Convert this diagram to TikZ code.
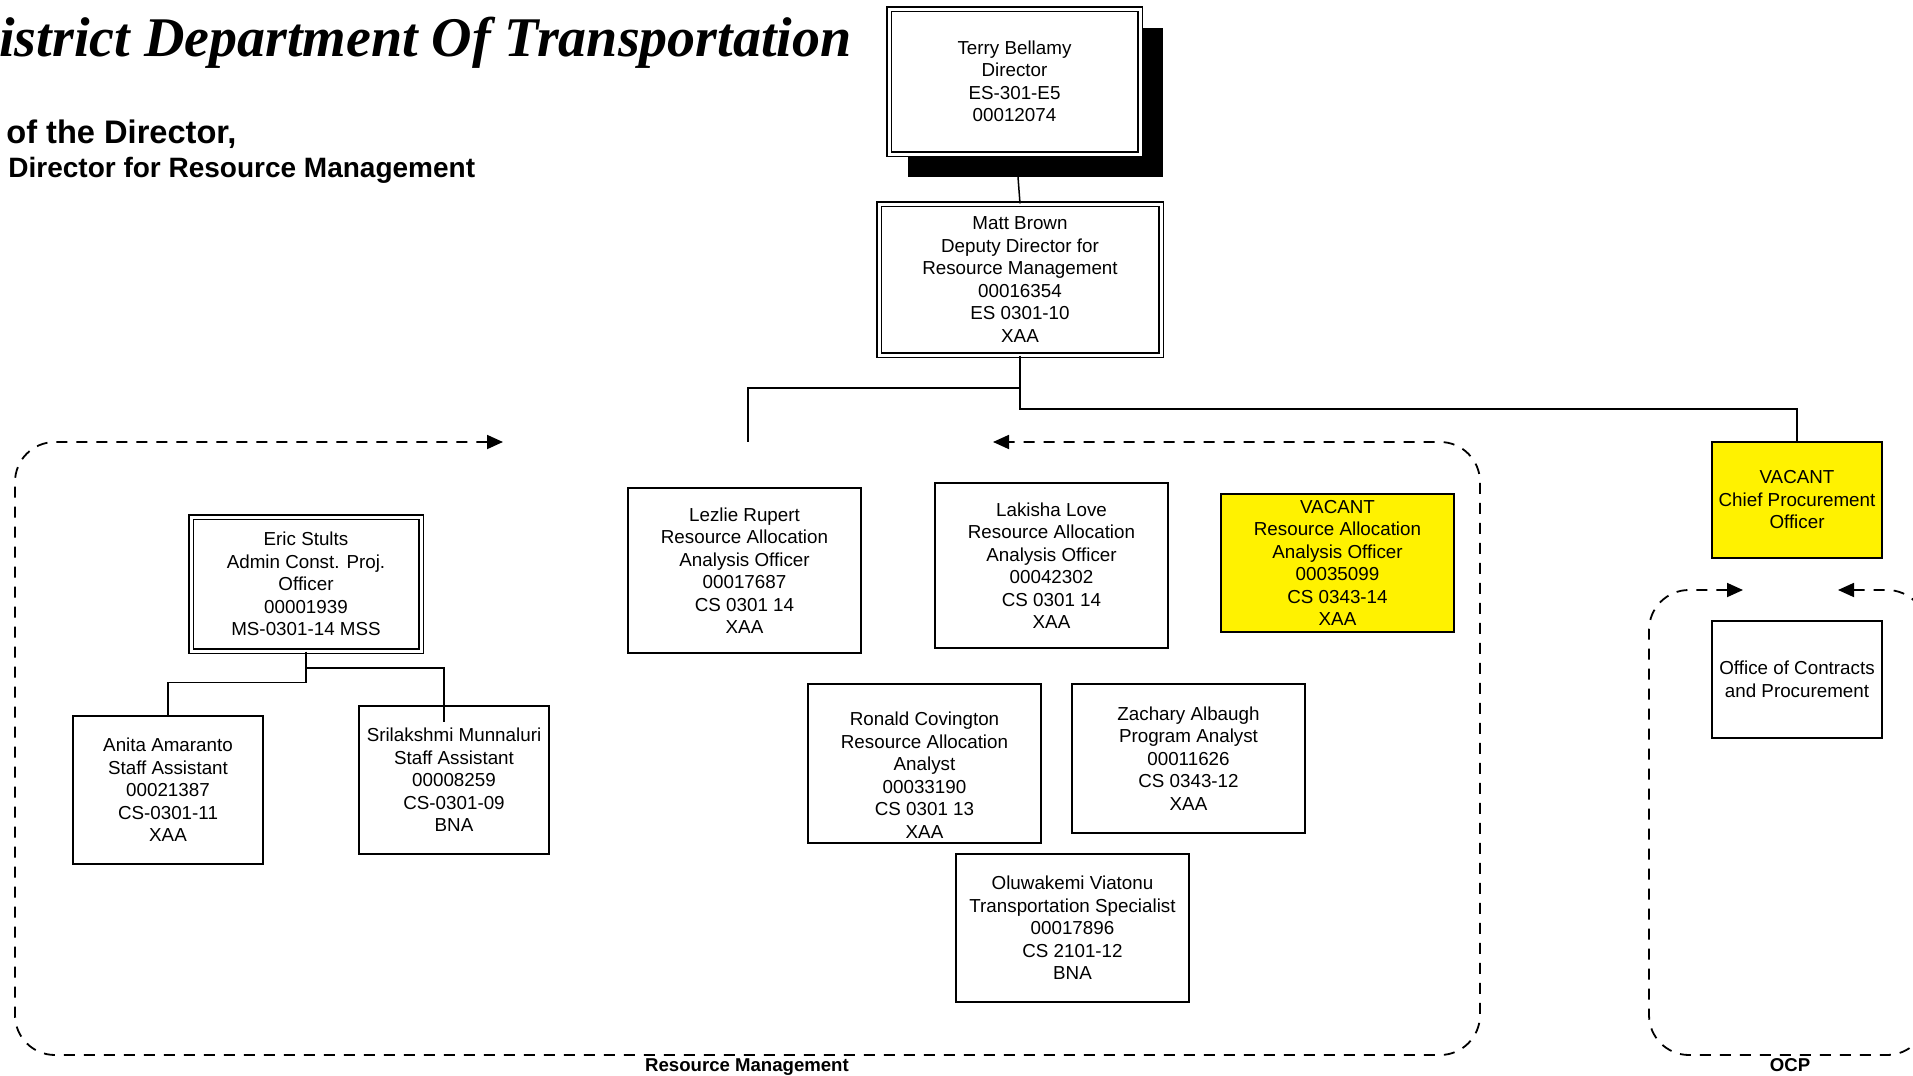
\documentclass[tikz,border=0pt]{standalone}
\usepackage{fontspec}
\setmainfont{Liberation Sans}
\newfontfamily\titlefont{Liberation Serif}
\usetikzlibrary{arrows.meta}
\tikzset{
  box/.style={draw, line width=0.8pt, fill=white, align=center, inner sep=0pt,
              font=\fontsize{9.4}{11.25}\selectfont},
  txt/.style={align=center, inner sep=0pt, font=\fontsize{9.4}{11.25}\selectfont},
  dbox/.style={box, double, double distance=1.5pt, line width=0.6pt},
  sz/.style 2 args={minimum width=#1*0.5pt, minimum height=#2*0.5pt},
  vac/.style={fill=yellow},
  conn/.style={line width=0.75pt},
  grp/.style={dash pattern=on 5.5pt off 4.5pt, line width=0.9pt, rounded corners=20pt,
              {Triangle[length=8pt,width=7pt]}-{Triangle[length=8pt,width=7pt]}},
  lbl/.style={anchor=base, inner sep=0pt, font=\bfseries\fontsize{9.3}{11}\selectfont},
}
\begin{document}
\begin{tikzpicture}[x=0.5pt,y=-0.5pt]
\useasboundingbox (0,0) rectangle (1913,1076);
\clip (0,0) rectangle (1913,1076);
\fill[white] (0,0) rectangle (1913,1076);

% titles
\node[anchor=base west, inner sep=0pt, font=\titlefont\fontsize{28}{30}\selectfont\bfseries\itshape] (title) at (-1,56) {istrict Department Of Transportation};
\node[anchor=base west, inner sep=0pt, font=\fontsize{16.3}{18}\selectfont\bfseries] (sub1) at (6,143) {of the Director,};
\node[anchor=base west, inner sep=0pt, font=\fontsize{14}{16}\selectfont\bfseries] (sub2) at (8,177) {Director for Resource Management};

% director with shadow
\fill (908,28) rectangle (1163,177);
\node[dbox, sz={251}{145}] (terry) at (1014.5,81.5) {Terry Bellamy\\Director\\ES-301-E5\\00012074};
\node[dbox, sz={282}{151}] (matt) at (1020,279.5) {Matt Brown\\Deputy Director for\\Resource Management\\00016354\\ES 0301-10\\XAA};

% Resource Management group
\node[dbox, sz={230}{134}] (eric) at (306,584) {Eric Stults\\Admin Const. Proj.\\Officer\\00001939\\MS-0301-14 MSS};
\node[box, sz={190}{148}] (anita) at (168,790) {Anita Amaranto\\Staff Assistant\\00021387\\CS-0301-11\\XAA};
\node[box, sz={190}{148}] (sri) at (454,780) {Srilakshmi Munnaluri\\Staff Assistant\\00008259\\CS-0301-09\\BNA};
\node[box, sz={233}{165}] (lezlie) at (744.5,570.5) {Lezlie Rupert\\Resource Allocation\\Analysis Officer\\00017687\\CS 0301 14\\XAA};
\node[box, sz={233}{165}] (lakisha) at (1051.5,565.5) {Lakisha Love\\Resource Allocation\\Analysis Officer\\00042302\\CS 0301 14\\XAA};
\node[box, vac, sz={233}{138}] (vacra) at (1337.5,563) {VACANT\\Resource Allocation\\Analysis Officer\\00035099\\CS 0343-14\\XAA};
\node[box, sz={233}{159}] (ronald) at (924.5,763.5) {};
\node[txt] (ronaldt) at (924.5,775) {Ronald Covington\\Resource Allocation\\Analyst\\00033190\\CS 0301 13\\XAA};
\node[box, sz={233}{149}] (zach) at (1188.5,758.5) {Zachary Albaugh\\Program Analyst\\00011626\\CS 0343-12\\XAA};
\node[box, sz={233}{148}] (olu) at (1072.5,928) {Oluwakemi Viatonu\\Transportation Specialist\\00017896\\CS 2101-12\\BNA};

% OCP group
\node[box, vac, sz={170}{116}] (chief) at (1797,500) {VACANT\\Chief Procurement\\Officer};
\node[box, sz={170}{117}] (office) at (1797,679.5) {Office of Contracts\\and Procurement};

% connectors
\coordinate (tb) at (1018,177);
\coordinate (j1) at (1020,388);
\coordinate (j2) at (1020,409);
\coordinate (lezend) at (748,442);
\coordinate (e1) at (306,668);
\coordinate (srie) at (444,722);
\draw[conn] (tb) -- (matt.north);
\draw[conn] (matt.south) -- (j1) -| (lezend);
\draw[conn] (j1) -- (j2) -| (chief.north);
\draw[conn] (eric.south) -- ++(0,31) -| (anita.north);
\draw[conn] (e1) -| (srie);

% group outlines
\coordinate (rmA) at (503,442);
\coordinate (rmB) at (993,442);
\coordinate (ocA) at (1743,590);
\coordinate (ocB) at (1838,590);
\draw[grp] (rmA) -| (15,1055) -| (1480,442) -- (rmB);
\draw[grp] (ocA) -| (1649,1055) -| (1927,590) -- (ocB);

\node[lbl] (rmlabel) at (747,1071) {Resource Management};
\node[lbl] (ocplabel) at (1790,1071) {OCP};
\end{tikzpicture}
\end{document}
